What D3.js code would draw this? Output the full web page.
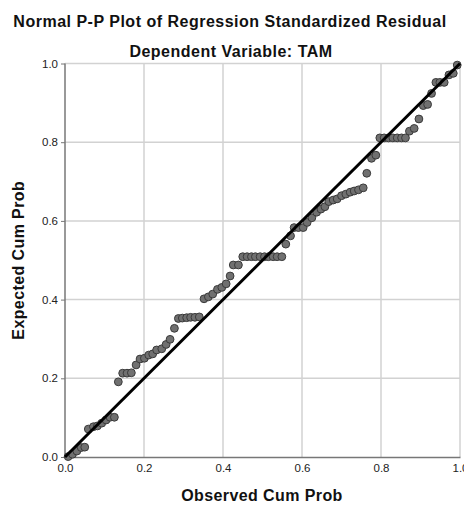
<!DOCTYPE html>
<html>
<head>
<meta charset="utf-8">
<script src="https://cdn.jsdelivr.net/npm/d3@7"></script>
<style>
  body { margin: 0; background: #fff; }
  svg { display: block; font-family: "Liberation Sans", Arial, sans-serif; }
</style>
</head>
<body>
<div id="chart"></div>
<script>
// observed cumulative probability (x) and expected cumulative probability (y)
const observed = [
  0.008, 0.019, 0.030, 0.041, 0.050, 0.059, 0.072, 0.082, 0.093, 0.104,
  0.114, 0.125, 0.135, 0.146, 0.157, 0.168, 0.180, 0.190, 0.201, 0.212,
  0.222, 0.232, 0.245, 0.256, 0.266, 0.277, 0.287, 0.297, 0.308, 0.318,
  0.329, 0.340, 0.352, 0.363, 0.374, 0.386, 0.397, 0.408, 0.418, 0.426,
  0.439, 0.450, 0.461, 0.472, 0.482, 0.494, 0.505, 0.515, 0.527, 0.537,
  0.549, 0.559, 0.571, 0.580, 0.591, 0.603, 0.613, 0.625, 0.637, 0.648,
  0.658, 0.668, 0.679, 0.689, 0.700, 0.711, 0.722, 0.732, 0.743, 0.755,
  0.764, 0.776, 0.787, 0.797, 0.808, 0.819, 0.830, 0.841, 0.852, 0.862,
  0.872, 0.884, 0.896, 0.907, 0.918, 0.928, 0.939, 0.949, 0.960, 0.972,
  0.983, 0.993
];
const expected = [
  0.001, 0.007, 0.015, 0.024, 0.025, 0.071, 0.077, 0.079, 0.086, 0.094,
  0.101, 0.101, 0.191, 0.213, 0.213, 0.214, 0.234, 0.249, 0.251, 0.259,
  0.262, 0.272, 0.275, 0.286, 0.299, 0.327, 0.352, 0.353, 0.354, 0.355,
  0.355, 0.356, 0.402, 0.407, 0.414, 0.426, 0.431, 0.440, 0.460, 0.488,
  0.488, 0.509, 0.509, 0.509, 0.509, 0.509, 0.509, 0.509, 0.509, 0.509,
  0.509, 0.541, 0.562, 0.583, 0.583, 0.583, 0.596, 0.608, 0.622, 0.630,
  0.636, 0.649, 0.653, 0.656, 0.664, 0.668, 0.673, 0.676, 0.679, 0.684,
  0.721, 0.759, 0.767, 0.811, 0.811, 0.811, 0.811, 0.811, 0.811, 0.811,
  0.828, 0.835, 0.859, 0.893, 0.896, 0.924, 0.952, 0.952, 0.952, 0.971,
  0.975, 0.996
];
const ticks = [0, 0.2, 0.4, 0.6, 0.8, 1.0];

const points = observed.map((x, i) => ({ x, y: expected[i] }));

const width = 464;
const height = 510;
const margin = { top: 63.5, right: 4, bottom: 53, left: 65 };

const svg = d3.select('#chart')
  .append('svg')
  .attr('width', width)
  .attr('height', height);

const xScale = d3.scaleLinear().domain([0, 1]).range([margin.left, width - margin.right]);
const yScale = d3.scaleLinear().domain([0, 1]).range([height - margin.bottom, margin.top]);

// titles
svg.append('text')
  .attr('x', 230).attr('y', 27)
  .attr('text-anchor', 'middle')
  .attr('font-size', 16).attr('font-weight', 'bold').attr('fill', '#111')
  .attr('letter-spacing', 0.5)
  .text('Normal P-P Plot of Regression Standardized Residual');

svg.append('text')
  .attr('x', 231).attr('y', 57)
  .attr('text-anchor', 'middle')
  .attr('font-size', 16).attr('font-weight', 'bold').attr('fill', '#111')
  .attr('letter-spacing', 0.5)
  .text('Dependent Variable: TAM');

// gridlines
const grid = svg.append('g').attr('class', 'grid');
grid.selectAll('line.v')
  .data(ticks.slice(1))
  .join('line')
  .attr('class', 'v')
  .attr('x1', d => xScale(d)).attr('x2', d => xScale(d))
  .attr('y1', yScale(0)).attr('y2', yScale(1))
  .attr('stroke', '#d2d2d2').attr('stroke-width', 1.5);
grid.selectAll('line.h')
  .data(ticks.slice(1))
  .join('line')
  .attr('class', 'h')
  .attr('x1', xScale(0)).attr('x2', xScale(1))
  .attr('y1', d => yScale(d)).attr('y2', d => yScale(d))
  .attr('stroke', '#d2d2d2').attr('stroke-width', 1.5);

// axes
const xAxis = d3.axisBottom(xScale).tickValues(ticks).tickFormat(d3.format('.1f')).tickSize(0).tickPadding(7);
const yAxis = d3.axisLeft(yScale).tickValues(ticks).tickFormat(d3.format('.1f')).tickSize(4).tickPadding(3);

const gx = svg.append('g')
  .attr('transform', `translate(0, ${yScale(0)})`)
  .call(xAxis);
const gy = svg.append('g')
  .attr('transform', `translate(${xScale(0)}, 0)`)
  .call(yAxis);

[gx, gy].forEach(g => {
  g.select('.domain').attr('stroke', '#777').attr('stroke-width', 1.5);
  g.selectAll('.tick line').attr('stroke', '#777');
  g.selectAll('.tick text')
    .attr('font-size', 11.5)
    .attr('fill', '#222')
    .attr('font-family', '"Liberation Sans", Arial, sans-serif');
});
gy.select('.domain').attr('d', `M0,${yScale(0)}V${yScale(1)}`);

// points
svg.append('g')
  .selectAll('circle')
  .data(points)
  .join('circle')
  .attr('cx', d => xScale(d.x))
  .attr('cy', d => yScale(d.y))
  .attr('r', 3.9)
  .attr('fill', '#707070')
  .attr('stroke', '#3a3a3a')
  .attr('stroke-width', 1);

// reference line
svg.append('line')
  .attr('x1', xScale(0)).attr('y1', yScale(0))
  .attr('x2', xScale(1)).attr('y2', yScale(1))
  .attr('stroke', '#000').attr('stroke-width', 3);

// axis titles
svg.append('text')
  .attr('x', 262).attr('y', 501)
  .attr('text-anchor', 'middle')
  .attr('font-size', 16).attr('font-weight', 'bold').attr('fill', '#111')
  .attr('letter-spacing', 0.4)
  .text('Observed Cum Prob');

svg.append('text')
  .attr('transform', `translate(24, ${(yScale(0) + yScale(1)) / 2}) rotate(-90)`)
  .attr('text-anchor', 'middle')
  .attr('font-size', 16).attr('font-weight', 'bold').attr('fill', '#111')
  .attr('letter-spacing', 0.4)
  .text('Expected Cum Prob');
</script>
</body>
</html>
